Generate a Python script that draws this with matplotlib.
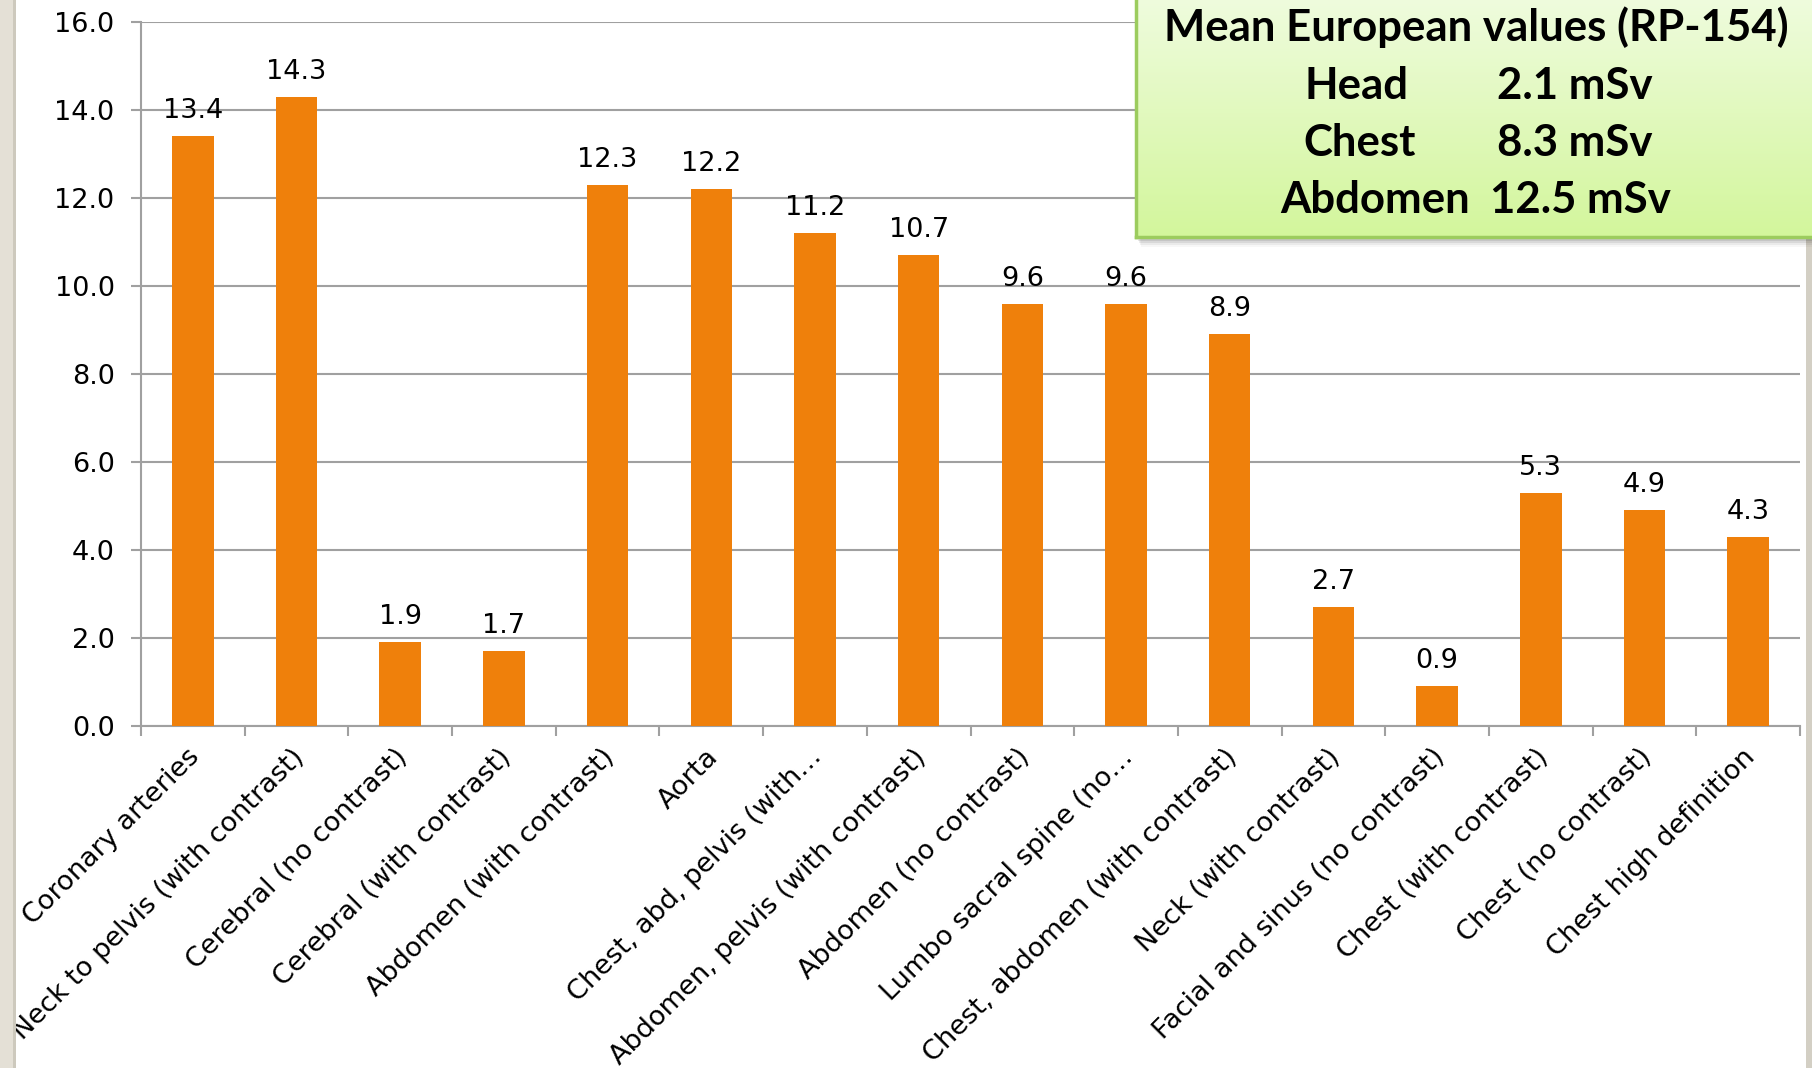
import numpy as np
import matplotlib
matplotlib.use("Agg")
import matplotlib.pyplot as plt
from matplotlib.patches import Rectangle
from matplotlib.transforms import ScaledTranslation

# Effective dose per CT examination (mSv)
categories = [
    "Coronary arteries",
    "Neck to pelvis (with contrast)",
    "Cerebral (no contrast)",
    "Cerebral (with contrast)",
    "Abdomen (with contrast)",
    "Aorta",
    "Chest, abd, pelvis (with\u2026",
    "Abdomen, pelvis (with contrast)",
    "Abdomen (no contrast)",
    "Lumbo sacral spine (no\u2026",
    "Chest, abdomen (with contrast)",
    "Neck (with contrast)",
    "Facial and sinus (no contrast)",
    "Chest (with contrast)",
    "Chest (no contrast)",
    "Chest high definition",
]
doses = [13.4, 14.3, 1.9, 1.7, 12.3, 12.2, 11.2, 10.7, 9.6, 9.6, 8.9,
         2.7, 0.9, 5.3, 4.9, 4.3]
y_ticks = [0, 2, 4, 6, 8, 10, 12, 14, 16]

# Reference values shown in the callout
callout_title = "Mean European values (RP-154)"
region_names = ["Head", "Chest", "Abdomen"]
region_doses = ["2.1 mSv", "8.3 mSv", "12.5 mSv"]

W, H = 1812, 1068
fig = plt.figure(figsize=(W / 100, H / 100), dpi=100)
fig.patch.set_facecolor("white")

# Slide frame strips on both sides
fig.patches.append(Rectangle((0, 0), 13 / W, 1, transform=fig.transFigure,
                             facecolor="#e4e0d6", edgecolor="none", zorder=0))
fig.patches.append(Rectangle((13 / W, 0), 3 / W, 1, transform=fig.transFigure,
                             facecolor="#cdc9bd", edgecolor="none", zorder=0))
fig.patches.append(Rectangle((1806 / W, 0), 6 / W, 1, transform=fig.transFigure,
                             facecolor="#d3cfc4", edgecolor="none", zorder=0))

grey = "#a0a0a0"
fs = 19.5
ax = fig.add_axes([141 / W, 1 - 726 / H, (1800 - 141) / W, (726 - 22) / H])
x = np.arange(len(categories))
ax.bar(x, doses, width=0.4, color="#ef800b", zorder=3)

ax.set_xlim(-0.5, len(categories) - 0.5)
ax.set_ylim(0, 16)
ax.set_yticks(y_ticks)
ax.set_yticklabels([f"{v:.1f}" for v in y_ticks], fontsize=fs)
ax.yaxis.grid(True, color=grey, linewidth=1.5, zorder=0)
ax.set_axisbelow(True)
for s in ["top", "right"]:
    ax.spines[s].set_visible(False)
for s in ["left", "bottom"]:
    ax.spines[s].set_color(grey)
    ax.spines[s].set_linewidth(1.5)
ax.tick_params(axis="y", length=7, width=1.5, color=grey, pad=12)
ax.set_xticks(np.arange(len(categories) + 1) - 0.5)
ax.set_xticklabels([])
ax.tick_params(axis="x", length=7, width=1.5, color=grey)

# Rotated category labels
lab_tr = ax.get_xaxis_transform() + ScaledTranslation(-6 / 100, -18 / 100, fig.dpi_scale_trans)
for xi, name in zip(x, categories):
    ax.text(xi, 0, name, transform=lab_tr, rotation=45, rotation_mode="anchor",
            ha="right", va="top", fontsize=fs, color="black")

# Value labels above bars
for xi, v in zip(x, doses):
    ax.annotate(f"{v:.1f}", (xi, v), xytext=(0, 13), textcoords="offset points",
                ha="center", va="baseline", fontsize=fs, color="black", zorder=4)

# Callout box with shadow and green gradient
bx0, by0 = 1136, 237
for i, a in enumerate([0.12, 0.09, 0.07, 0.05, 0.03]):
    off = 2 + 2 * i
    fig.patches.append(Rectangle(((bx0 + off * 0.5) / W, 1 - (by0 + off) / H),
                                 (W - bx0) / W, (by0 + off) / H,
                                 transform=fig.transFigure, facecolor="black",
                                 alpha=a, edgecolor="none", zorder=5))
bax = fig.add_axes([bx0 / W, 1 - by0 / H, (W - bx0 + 20) / W, by0 / H + 0.01], zorder=6)
grad = np.linspace(0, 1, 256)[:, None]
top_c = np.array([0xf0, 0xfc, 0xe0]) / 255
bot_c = np.array([0xd3, 0xf6, 0x9c]) / 255
img = top_c[None, None, :] * (1 - grad[:, :, None]) + bot_c[None, None, :] * grad[:, :, None]
bax.imshow(img, aspect="auto", extent=[0, 1, 0, 1], origin="upper")
bax.set_xlim(0, 1)
bax.set_ylim(0, 1)
bax.set_xticks([])
bax.set_yticks([])
for s in bax.spines.values():
    s.set_color("#9ccc5e")
    s.set_linewidth(2.5)

font = dict(family="Lato", fontweight="bold", fontsize=31.5, color="black")
fig.text(1476 / W, 1 - 41 / H, callout_title, ha="center", va="baseline", zorder=10, **font)
name_x = [1305, 1303, 1280]
dose_x = [1497, 1497, 1490]
baselines = [99, 156, 213]
for nm, ds, nx, dx, bl in zip(region_names, region_doses, name_x, dose_x, baselines):
    fig.text(nx / W, 1 - bl / H, nm, ha="left", va="baseline", zorder=10, **font)
    fig.text(dx / W, 1 - bl / H, ds, ha="left", va="baseline", zorder=10, **font)

fig.savefig("out.png", dpi=100, facecolor=fig.get_facecolor())
